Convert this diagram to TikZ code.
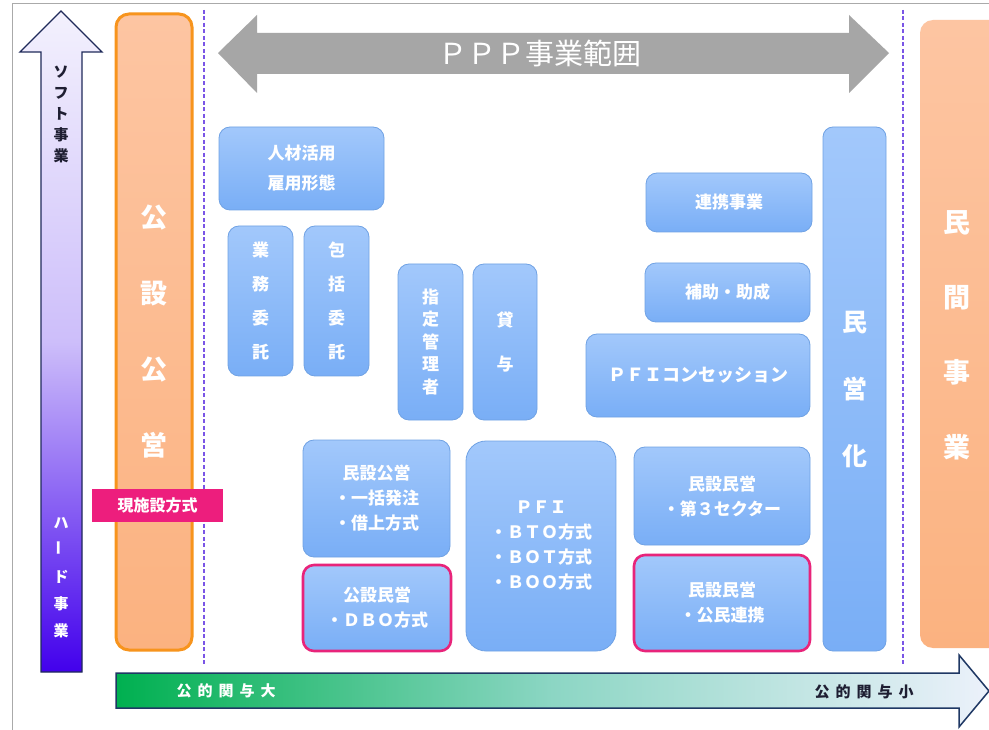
\documentclass[tikz,border=0pt]{standalone}
\usepackage{fontspec}
\setmainfont{Noto Sans CJK JP}
\usepackage{graphicx}
\definecolor{framegray}{RGB}{170,170,170}
\definecolor{navy}{RGB}{31,42,90}
\definecolor{navy2}{RGB}{31,56,100}
\definecolor{lavtop}{RGB}{243,241,253}
\definecolor{lavmid}{RGB}{205,190,250}
\definecolor{lavbot}{RGB}{66,0,236}
\definecolor{ortop}{RGB}{253,197,162}
\definecolor{orbot}{RGB}{251,178,128}
\definecolor{orline}{RGB}{247,148,29}
\definecolor{pinkfill}{RGB}{237,30,125}
\definecolor{pinkline}{RGB}{232,36,122}
\definecolor{dashpurple}{RGB}{122,85,230}
\definecolor{arrowgray}{RGB}{166,166,166}
\definecolor{bluetop}{RGB}{162,200,251}
\definecolor{bluebot}{RGB}{121,174,246}
\definecolor{blueline}{RGB}{112,162,228}
\definecolor{greenL}{RGB}{0,176,80}
\definecolor{greenM}{RGB}{140,214,196}
\definecolor{greenR}{RGB}{236,241,251}
\definecolor{darktext}{RGB}{30,30,50}
\begin{document}
\begin{tikzpicture}[x=1pt,y=-1pt,
  bbox/.style={rectangle, rounded corners=11pt, top color=bluetop, bottom color=bluebot,
    draw=blueline, line width=0.8pt, text=white, align=center, inner sep=0pt,
    font=\fontsize{17}{25}\selectfont\bfseries},
  pinkbox/.style={bbox, draw=pinkline, line width=2.6pt},
  orbox/.style={rectangle, rounded corners=13pt, top color=ortop, bottom color=orbot,
    text=white, align=center, inner sep=0pt},
  vdash/.style={draw=dashpurple, line width=1.2pt, dash pattern=on 4pt off 2.5pt},
  lbl/.style={inner sep=0pt, align=center}
]
\useasboundingbox (0,0) rectangle (989,730);
\fill[white] (0,0) rectangle (989,730);
% frame
\draw[framegray, line width=1pt] (12,730) -- (12,4) -- (989,4);

% vertical soft/hard arrow
\path[draw=navy, line width=1.3pt, top color=lavtop, bottom color=lavbot, middle color=lavmid]
  (41,672) -- (41,52) -- (20,52) -- (61,11) -- (102,52) -- (82,52) -- (82,672) -- cycle;
\node[lbl, text=darktext, font=\fontsize{15}{21}\selectfont\bfseries] (soft) at (61,114) {ソ\\フ\\ト\\事\\業};
\node[lbl, text=white, font=\fontsize{15}{27}\selectfont\bfseries] (hard) at (61,578)
  {ハ\\\rotatebox{90}{ー}\\ド\\事\\業};

% dashed separators
\coordinate (dl1) at (204,10); \coordinate (dl2) at (204,666);
\coordinate (dr1) at (903,10); \coordinate (dr2) at (903,666);
\draw[vdash] (dl1) -- (dl2);
\draw[vdash] (dr1) -- (dr2);

% left orange column
\node[orbox, draw=orline, line width=3pt, minimum width=76pt, minimum height=636pt,
  font=\fontsize{27}{76}\selectfont\bfseries] (kosetsu) at (154,332) {公\\設\\公\\営};

% right orange column (clipped)
\begin{scope}
\clip (0,0) rectangle (989,730);
\path[rounded corners=13pt, top color=ortop, bottom color=orbot] (920,20) rectangle (1015,648);
\end{scope}
\node[lbl, text=white, font=\fontsize{27}{75}\selectfont\bfseries] (minkan) at (957,335) {民\\間\\事\\業};

% pink label
\node[rectangle, fill=pinkfill, text=white, minimum width=131pt, minimum height=33pt,
  inner sep=0pt, font=\fontsize{16}{20}\selectfont\bfseries] (genshisetsu) at (157.5,505.5) {現施設方式};

% PPP double arrow
\fill[arrowgray] (218,53) -- (257,15) -- (257,33) -- (849,33) -- (849,15) -- (889,53)
  -- (849,93) -- (849,74) -- (257,74) -- (257,93) -- cycle;
\node[lbl, text=white, font=\fontsize{29}{30}\selectfont] (ppp) at (540,53) {ＰＰＰ事業範囲};

% blue boxes
\node[bbox, minimum width=165pt, minimum height=83pt, font=\fontsize{17}{30}\selectfont\bfseries] (jinzai) at (301.5,168.5) {人材活用\\雇用形態};
\node[bbox, minimum width=65pt, minimum height=150pt, font=\fontsize{17}{34}\selectfont\bfseries] (gyomu) at (260.5,301) {業\\務\\委\\託};
\node[bbox, minimum width=65pt, minimum height=150pt, font=\fontsize{17}{34}\selectfont\bfseries] (hokatsu) at (336.5,301) {包\\括\\委\\託};
\node[bbox, minimum width=65pt, minimum height=156pt, font=\fontsize{17}{22.5}\selectfont\bfseries] (shitei) at (430.5,342) {指\\定\\管\\理\\者};
\node[bbox, minimum width=64pt, minimum height=156pt, font=\fontsize{17}{44}\selectfont\bfseries] (taiyo) at (505,342) {貸\\与};
\node[bbox, minimum width=166pt, minimum height=59pt] (renkei) at (729,202.5) {連携事業};
\node[bbox, minimum width=165pt, minimum height=59pt] (hojo) at (727.5,292.5) {補助・助成};
\node[bbox, minimum width=224pt, minimum height=83pt, font=\fontsize{18}{25}\selectfont\bfseries] (conc) at (698,375.5) {ＰＦＩコンセッション};
\node[bbox, rounded corners=10pt, minimum width=63pt, minimum height=524pt, font=\fontsize{25}{67}\selectfont\bfseries] (mineika) at (854.5,389) {民\\営\\化};
\node[bbox, minimum width=147pt, minimum height=117pt] (minsetsu) at (376.5,498.5) {民設公営\\・一括発注\\・借上方式};
\node[pinkbox, minimum width=148pt, minimum height=86pt] (dbo) at (377,608) {公設民営\\・ＤＢＯ方式};
\node[bbox, rounded corners=20pt, minimum width=150pt, minimum height=210pt] (pfi) at (541,546) {ＰＦＩ\\・ＢＴＯ方式\\・ＢＯＴ方式\\・ＢＯＯ方式};
\node[bbox, minimum width=176pt, minimum height=98pt] (dai3) at (722,496) {民設民営\\・第３セクター};
\node[pinkbox, minimum width=176pt, minimum height=96pt] (komin) at (722,603) {民設民営\\・公民連携};

% bottom arrow
\path[draw=navy2, line width=1.5pt, left color=greenL, right color=greenR, middle color=greenM]
  (116,673) -- (959,673) -- (959,655) -- (989,691) -- (959,727) -- (959,708) -- (116,708) -- cycle;
\node[lbl, text=white, font=\fontsize{15}{18}\selectfont\bfseries] (kodai) at (226,691)
  {公\hspace{6pt}的\hspace{6pt}関\hspace{6pt}与\hspace{6pt}大};
\node[lbl, text=darktext, font=\fontsize{15}{18}\selectfont\bfseries] (kosho) at (864,692)
  {公\hspace{6pt}的\hspace{6pt}関\hspace{6pt}与\hspace{6pt}小};
\end{tikzpicture}
\end{document}
